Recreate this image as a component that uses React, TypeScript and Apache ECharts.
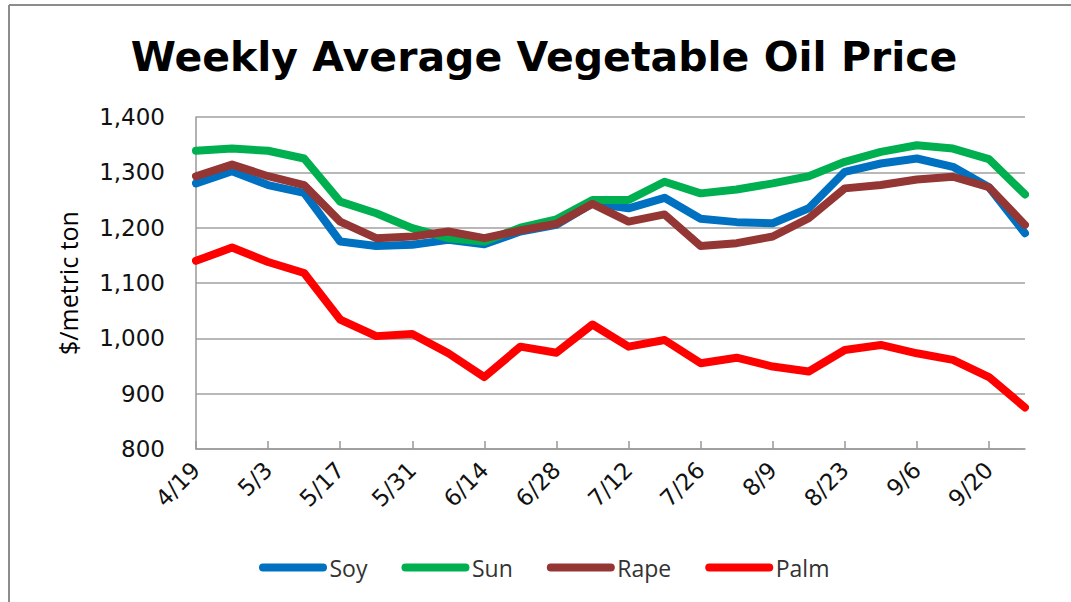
import React, { useEffect, useRef } from "react";
import * as echarts from "echarts";

const categories = ["4/19","4/26","5/3","5/10","5/17","5/24","5/31","6/7","6/14","6/21","6/28","7/5","7/12","7/19","7/26","8/2","8/9","8/16","8/23","8/30","9/6","9/13","9/20","9/27"];
const soy = [1280,1302,1277,1263,1175,1167,1169,1178,1170,1193,1205,1244,1235,1254,1216,1210,1208,1235,1301,1316,1325,1310,1273,1190];
const sun = [1339,1343,1339,1325,1247,1226,1199,1181,1175,1200,1215,1250,1250,1283,1262,1269,1280,1293,1319,1337,1349,1343,1324,1260];
const rape = [1293,1314,1293,1277,1211,1181,1184,1193,1181,1195,1207,1243,1211,1224,1167,1172,1184,1217,1271,1277,1287,1292,1273,1205];
const palm = [1140,1164,1138,1118,1034,1004,1008,973,930,985,974,1025,985,997,955,965,949,940,979,988,973,961,930,875];
const yTicks = { min: 800, max: 1400, interval: 100 };
const seriesDefs = [
  { name: "Soy", data: soy, color: "#0070C0" },
  { name: "Sun", data: sun, color: "#00B050" },
  { name: "Rape", data: rape, color: "#943634" },
  { name: "Palm", data: palm, color: "#FF0000" },
];

const capsule = "path://M4,0 L64,0 A4,4 0 0 1 64,8 L4,8 A4,4 0 0 1 4,0 Z";

export default function App() {
  const ref = useRef<HTMLDivElement>(null);
  useEffect(() => {
    if (!ref.current) return;
    const chart = echarts.init(ref.current, null, { renderer: "svg" });
    chart.setOption({
      animation: false,
      backgroundColor: "#ffffff",
      graphic: [
        { type: "line", shape: { x1: 9, y1: 5, x2: 1071, y2: 5 }, style: { stroke: "#8c8c8c", lineWidth: 2 } },
        { type: "line", shape: { x1: 9, y1: 5, x2: 9, y2: 602 }, style: { stroke: "#8c8c8c", lineWidth: 2 } },
        {
          type: "text",
          x: 544,
          y: 57,
          style: {
            text: "Weekly Average Vegetable Oil Price",
            textAlign: "center",
            textVerticalAlign: "middle",
            font: "bold 41px 'DejaVu Sans'",
            fill: "#000000",
          },
        },
      ],
      legend: {
        left: 254,
        top: 551,
        itemWidth: 69,
        itemHeight: 8,
        itemGap: 34,
        icon: capsule,
        textStyle: { fontFamily: "Open Sans", fontSize: 23, color: "#333333", padding: [0, 0, 0, -3] },
        data: seriesDefs.map((s) => ({ name: s.name, icon: capsule })),
      },
      grid: { left: 196, right: 46, top: 117, bottom: 153, containLabel: false },
      xAxis: {
        type: "category",
        data: categories,
        boundaryGap: false,
        axisLine: { lineStyle: { color: "#999999", width: 1.5 } },
        axisTick: { inside: true, length: 8, interval: 1, lineStyle: { color: "#999999", width: 1.5 } },
        axisLabel: {
          interval: 1,
          rotate: 45,
          margin: 17,
          fontFamily: "DejaVu Sans",
          fontSize: 23,
          color: "#111111",
        },
      },
      yAxis: {
        type: "value",
        min: yTicks.min,
        max: yTicks.max,
        interval: yTicks.interval,
        name: "$/metric ton",
        nameLocation: "middle",
        nameGap: 116,
        nameRotate: 90,
        nameTextStyle: { fontFamily: "Open Sans", fontSize: 25, color: "#000000" },
        axisLine: { show: true, lineStyle: { color: "#999999", width: 1.5 } },
        axisTick: { show: false },
        splitLine: { lineStyle: { color: "#a0a0a0", width: 1.5 } },
        axisLabel: {
          margin: 31,
          fontFamily: "DejaVu Sans",
          fontSize: 23,
          color: "#111111",
          formatter: (v: number) => v.toLocaleString("en-US"),
        },
      },
      series: seriesDefs.map((s) => ({
        name: s.name,
        type: "line",
        data: s.data,
        symbol: "none",
        color: s.color,
        lineStyle: { color: s.color, width: 8, cap: "round", join: "round" },
      })),
    });
    return () => chart.dispose();
  }, []);
  return <div ref={ref} style={{ position: "fixed", left: 0, top: 0, width: 1071, height: 602 }} />;
}
